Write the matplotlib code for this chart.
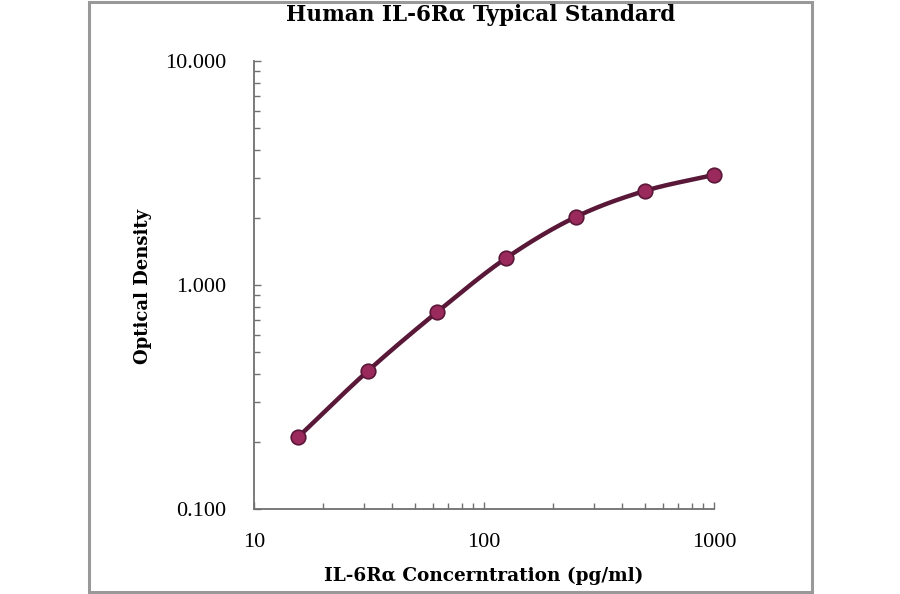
import numpy as np
import matplotlib
matplotlib.use("Agg")
import matplotlib.pyplot as plt
from matplotlib.patches import Rectangle
from matplotlib.ticker import FixedLocator, FixedFormatter, LogLocator, NullFormatter

conc = [15.6, 31.25, 62.5, 125, 250, 500, 1000]
od = [0.21, 0.413, 0.757, 1.32, 2.01, 2.63, 3.10]
xticks = [10, 100, 1000]
xticklabels = ["10", "100", "1000"]
yticks = [0.1, 1, 10]
yticklabels = ["0.100", "1.000", "10.000"]

plt.rcParams['font.family'] = ['Liberation Serif', 'DejaVu Serif']
bold_font = ['DejaVu Serif']

fig = plt.figure(figsize=(9, 5.94), dpi=100)
ax = fig.add_axes([254/900, 1-509/594, (714-254)/900, (509-61)/594])

# smooth curve (Catmull-Rom in log-log space)
lx = np.log10(conc); ly = np.log10(od)
px = np.concatenate([[2*lx[0]-lx[1]], lx, [2*lx[-1]-lx[-2]]])
py = np.concatenate([[2*ly[0]-ly[1]], ly, [2*ly[-1]-ly[-2]]])
sx, sy = [], []
for i in range(1, len(px)-2):
    t = np.linspace(0, 1, 30)
    for arr, out in ((px, sx), (py, sy)):
        p0, p1, p2, p3 = arr[i-1], arr[i], arr[i+1], arr[i+2]
        out.extend(0.5*((2*p1) + (-p0+p2)*t + (2*p0-5*p1+4*p2-p3)*t**2 + (-p0+3*p1-3*p2+p3)*t**3))
ax.plot(10**np.array(sx), 10**np.array(sy), color='#5a1838', lw=3.2, solid_capstyle='round', zorder=2)
ax.plot(conc, od, ls='none', marker='o', ms=10.5, mfc='#9a2a5c', mec='#5a1838', mew=1.2, zorder=3,
        clip_on=False)

ax.set_xscale('log'); ax.set_yscale('log')
ax.set_xlim(10, 1000); ax.set_ylim(0.1, 10)
ax.xaxis.set_major_locator(FixedLocator(xticks))
ax.xaxis.set_major_formatter(FixedFormatter(xticklabels))
ax.yaxis.set_major_locator(FixedLocator(yticks))
ax.yaxis.set_major_formatter(FixedFormatter(yticklabels))
ax.xaxis.set_minor_locator(LogLocator(base=10, subs=np.arange(2, 10)))
ax.yaxis.set_minor_locator(LogLocator(base=10, subs=np.arange(2, 10)))
ax.xaxis.set_minor_formatter(NullFormatter()); ax.yaxis.set_minor_formatter(NullFormatter())
for s in ['top', 'right']:
    ax.spines[s].set_visible(False)
for s in ['left', 'bottom']:
    ax.spines[s].set_color('#707070'); ax.spines[s].set_linewidth(1.3)
ax.tick_params(which='both', direction='in', color='#707070', width=1.0)
ax.tick_params(which='major', length=5, labelsize=16)
ax.tick_params(which='minor', length=4)
ax.tick_params(axis='y', which='major', pad=20)
ax.tick_params(axis='x', which='major', pad=17)

fig.text(481/900, 1-21/594, "Human IL-6Rα Typical Standard", family=bold_font, fontsize=15.5,
         fontweight='bold', ha='center', va='baseline')
fig.text(484/900, 1-581/594, "IL-6Rα Concerntration (pg/ml)", family=bold_font, fontsize=13.3,
         fontweight='bold', ha='center', va='baseline')
fig.text(143/900, 1-286/594, "Optical Density", family=bold_font, fontsize=13,
         fontweight='bold', ha='center', va='center', rotation=90)

fig.patches.append(Rectangle((89/900, 2/594), (812-89)/900, (592-2)/594, transform=fig.transFigure,
                             fill=False, ec='#999999', lw=2.2, zorder=10))
fig.savefig("out.png", dpi=100)
